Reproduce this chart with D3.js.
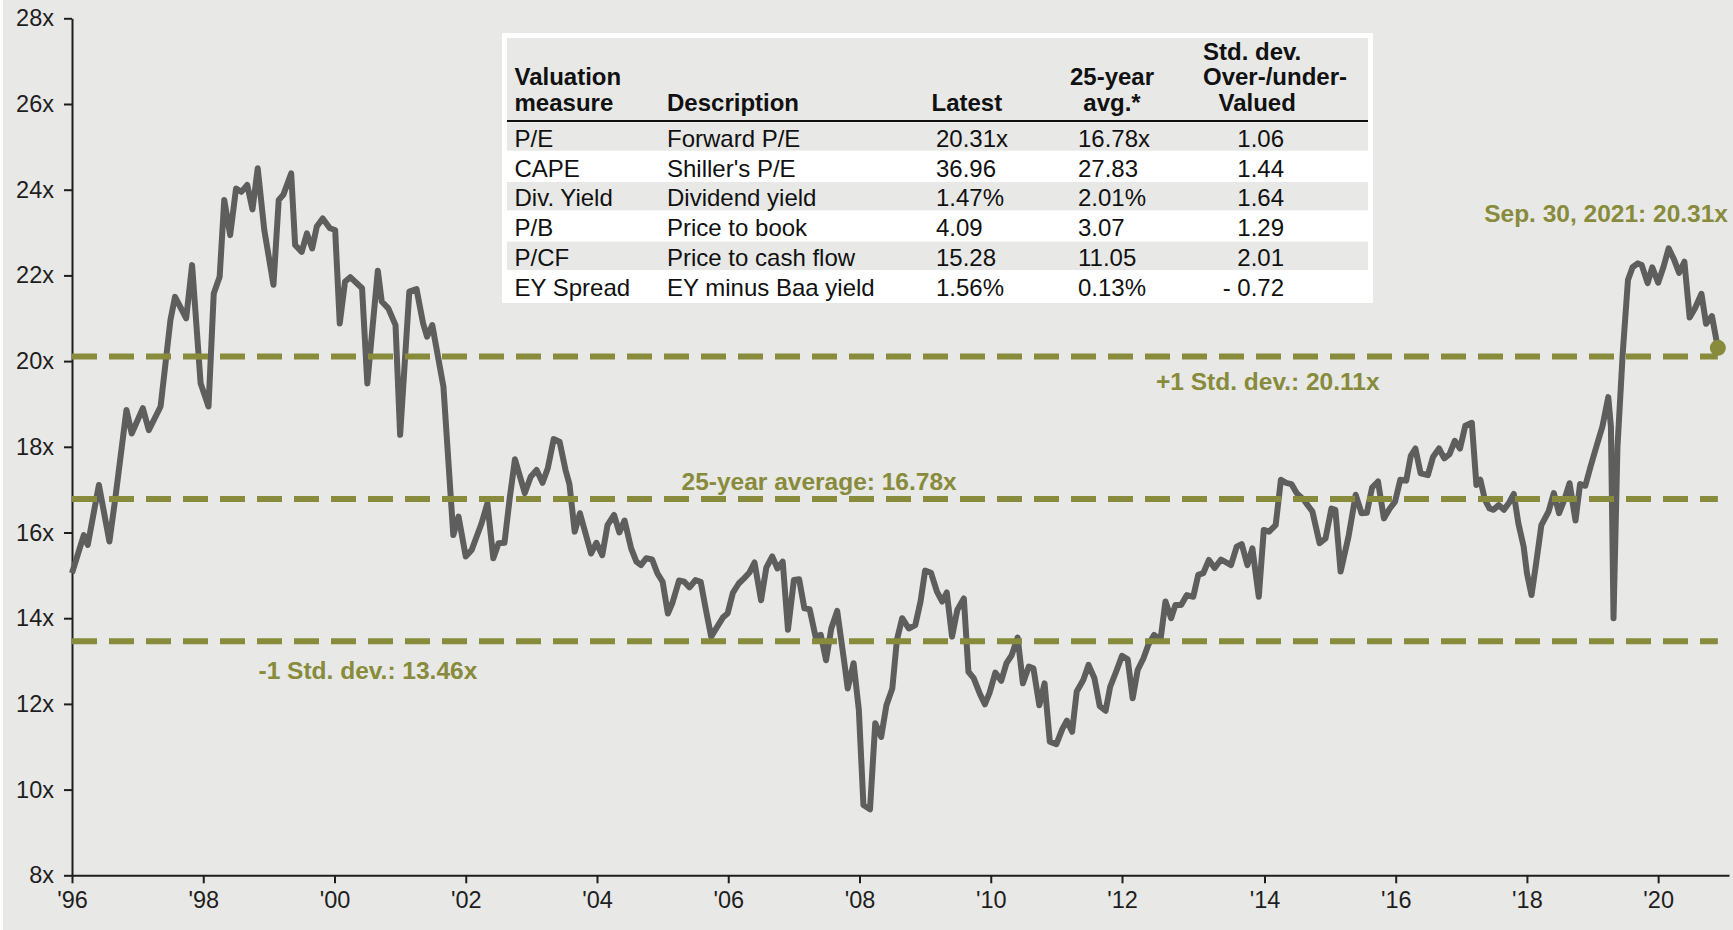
<!DOCTYPE html>
<html>
<head>
<meta charset="utf-8">
<script src="https://cdn.jsdelivr.net/npm/d3@7"></script>
<style>
  html, body { margin: 0; padding: 0; background: #fff; }
  svg { display: block; font-family: Arial, "Liberation Sans", sans-serif; }
</style>
</head>
<body>
<svg id="chart"></svg>
<script>
// forward P/E, [year on the axis, multiple]
const pePoints = [
  [1996.00,15.05],[1996.18,15.94],[1996.24,15.71],[1996.41,17.11],[1996.57,15.79],[1996.66,16.80],
  [1996.83,18.86],[1996.91,18.31],[1997.08,18.90],[1997.17,18.39],[1997.35,18.94],[1997.50,20.96],
  [1997.57,21.50],[1997.74,21.00],[1997.83,22.24],[1997.96,19.48],[1998.08,18.94],[1998.16,21.58],
  [1998.25,21.97],[1998.32,23.76],[1998.41,22.94],[1998.50,24.03],[1998.58,23.95],[1998.67,24.11],
  [1998.75,23.54],[1998.83,24.50],[1998.93,23.06],[1999.07,21.78],[1999.15,23.76],[1999.22,23.88],
  [1999.34,24.38],[1999.40,22.71],[1999.50,22.55],[1999.58,22.98],[1999.66,22.63],[1999.73,23.14],
  [1999.82,23.33],[1999.93,23.10],[2000.01,23.06],[2000.08,20.88],[2000.16,21.85],[2000.24,21.96],
  [2000.42,21.70],[2000.50,19.48],[2000.66,22.11],[2000.72,21.39],[2000.82,21.23],[2000.93,20.84],
  [2001.00,18.28],[2001.14,21.62],[2001.25,21.68],[2001.35,20.88],[2001.41,20.57],[2001.49,20.84],
  [2001.66,19.40],[2001.81,15.94],[2001.89,16.37],[2002.00,15.44],[2002.09,15.59],[2002.24,16.21],
  [2002.33,16.68],[2002.42,15.40],[2002.50,15.75],[2002.59,15.76],[2002.67,16.80],[2002.75,17.71],
  [2002.90,16.92],[2002.99,17.30],[2003.08,17.46],[2003.17,17.16],[2003.25,17.50],[2003.34,18.18],
  [2003.43,18.12],[2003.52,17.46],[2003.58,17.13],[2003.66,16.02],[2003.74,16.45],[2003.91,15.51],
  [2003.99,15.76],[2004.08,15.47],[2004.16,16.17],[2004.26,16.41],[2004.34,16.00],[2004.42,16.28],
  [2004.52,15.63],[2004.60,15.32],[2004.67,15.24],[2004.75,15.40],[2004.84,15.37],[2004.92,15.05],
  [2005.00,14.85],[2005.08,14.11],[2005.15,14.36],[2005.25,14.88],[2005.33,14.85],[2005.41,14.72],
  [2005.50,14.89],[2005.58,14.85],[2005.66,14.19],[2005.74,13.57],[2005.84,13.82],[2005.92,14.02],
  [2005.99,14.11],[2006.07,14.59],[2006.16,14.81],[2006.24,14.93],[2006.32,15.06],[2006.40,15.30],
  [2006.50,14.42],[2006.58,15.18],[2006.67,15.44],[2006.75,15.16],[2006.83,15.32],[2006.91,13.73],
  [2007.00,14.89],[2007.08,14.91],[2007.16,14.23],[2007.24,14.21],[2007.33,13.57],[2007.41,13.61],
  [2007.49,13.02],[2007.57,13.76],[2007.66,14.17],[2007.77,12.95],[2007.82,12.36],[2007.91,12.95],
  [2007.99,11.86],[2008.06,9.64],[2008.16,9.54],[2008.24,11.55],[2008.33,11.23],[2008.41,11.97],
  [2008.50,12.36],[2008.57,13.49],[2008.65,14.00],[2008.75,13.76],[2008.85,13.84],[2008.93,14.39],
  [2009.00,15.11],[2009.09,15.06],[2009.18,14.62],[2009.26,14.39],[2009.33,14.60],[2009.41,13.57],
  [2009.49,14.19],[2009.59,14.46],[2009.66,12.75],[2009.74,12.60],[2009.83,12.25],[2009.91,11.99],
  [2009.98,12.25],[2010.07,12.73],[2010.16,12.54],[2010.24,12.95],[2010.32,13.14],[2010.41,13.55],
  [2010.49,12.48],[2010.58,12.87],[2010.65,12.83],[2010.74,11.97],[2010.82,12.48],[2010.90,11.12],
  [2011.00,11.06],[2011.09,11.41],[2011.16,11.61],[2011.24,11.35],[2011.31,12.29],[2011.41,12.56],
  [2011.49,12.91],[2011.58,12.60],[2011.66,11.95],[2011.75,11.84],[2011.82,12.40],[2011.91,12.75],
  [2012.00,13.12],[2012.08,13.04],[2012.15,12.13],[2012.22,12.79],[2012.30,13.06],[2012.37,13.38],
  [2012.45,13.61],[2012.54,13.49],[2012.61,14.39],[2012.69,14.00],[2012.75,14.31],[2012.83,14.31],
  [2012.91,14.54],[2013.00,14.50],[2013.07,15.01],[2013.14,15.05],[2013.22,15.36],[2013.30,15.17],
  [2013.39,15.37],[2013.53,15.24],[2013.61,15.67],[2013.68,15.73],[2013.76,15.24],[2013.83,15.63],
  [2013.92,14.50],[2013.99,16.06],[2014.07,16.02],[2014.17,16.17],[2014.25,17.23],[2014.33,17.16],
  [2014.41,17.13],[2014.49,16.92],[2014.60,16.76],[2014.73,16.49],[2014.84,15.75],[2014.93,15.86],
  [2015.02,16.56],[2015.08,16.53],[2015.16,15.09],[2015.28,15.90],[2015.39,16.88],[2015.48,16.45],
  [2015.56,16.46],[2015.64,17.05],[2015.73,17.19],[2015.82,16.33],[2015.91,16.56],[2015.99,16.72],
  [2016.07,17.23],[2016.16,17.21],[2016.23,17.79],[2016.30,17.96],[2016.38,17.38],[2016.49,17.34],
  [2016.57,17.77],[2016.66,17.96],[2016.74,17.73],[2016.82,17.83],[2016.90,18.14],[2016.98,17.96],
  [2017.06,18.49],[2017.16,18.56],[2017.23,17.11],[2017.29,17.23],[2017.36,16.76],[2017.43,16.56],
  [2017.49,16.53],[2017.57,16.64],[2017.65,16.53],[2017.73,16.70],[2017.80,16.90],[2017.87,16.21],
  [2017.95,15.67],[2018.00,15.05],[2018.07,14.54],[2018.14,15.28],[2018.22,16.17],[2018.33,16.49],
  [2018.41,16.92],[2018.49,16.45],[2018.57,16.76],[2018.65,17.15],[2018.74,16.28],[2018.81,17.13],
  [2018.89,17.09],[2018.97,17.54],[2019.05,17.96],[2019.15,18.47],[2019.24,19.16],[2019.28,18.47],
  [2019.32,14.00],[2019.38,18.00],[2019.46,20.18],[2019.54,21.89],[2019.61,22.19],[2019.69,22.28],
  [2019.75,22.24],[2019.84,21.82],[2019.91,22.19],[2020.00,21.83],[2020.08,22.19],[2020.16,22.63],
  [2020.24,22.38],[2020.32,22.06],[2020.40,22.32],[2020.48,21.02],[2020.56,21.23],[2020.66,21.57],
  [2020.73,20.87],[2020.82,21.05],[2020.91,20.31]
]

const refValues = [20.11, 16.78, 13.46]
const refLabels = ['+1 Std. dev.: 20.11x', '25-year average: 16.78x', '-1 Std. dev.: 13.46x']
const latestLabel = 'Sep. 30, 2021: 20.31x'

const yTicks = [8, 10, 12, 14, 16, 18, 20, 22, 24, 26, 28]
const xTicks = [1996, 1998, 2000, 2002, 2004, 2006, 2008, 2010, 2012, 2014, 2016, 2018, 2020]

const tableHeaders = [['Valuation', 'measure'], ['Description'], ['Latest'], ['25-year', 'avg.*'], ['Std. dev.', 'Over-/under-', 'Valued']]
const tableMeasures = ['P/E', 'CAPE', 'Div. Yield', 'P/B', 'P/CF', 'EY Spread']
const tableDescriptions = ['Forward P/E', "Shiller's P/E", 'Dividend yield', 'Price to book', 'Price to cash flow', 'EY minus Baa yield']
const tableLatest = ['20.31x', '36.96', '1.47%', '4.09', '15.28', '1.56%']
const tableAvg = ['16.78x', '27.83', '2.01%', '3.07', '11.05', '0.13%']
const tableStdDev = ['1.06', '1.44', '1.64', '1.29', '2.01', '- 0.72']

const W = 1733, H = 930
const BG = '#e8e8e6'
const OLIVE = '#878b3b'
const INK = '#1e1e1e'

const svg = d3.select('#chart').attr('width', W).attr('height', H)

svg.append('rect').attr('x', 3).attr('y', 0).attr('width', W - 3).attr('height', H).attr('fill', BG)

// axis is not evenly spaced in the original, '12-'14 is wider
const x = d3.scaleLinear()
  .domain([1996, 2012, 2014, 2021.08])
  .range([72, 1122, 1264.5, 1729])
const y = d3.scaleLinear().domain([8, 28]).range([875.3, 18.3])

const last = pePoints[pePoints.length - 1]

// axes
const yAxis = svg.append('g')
  .attr('transform', `translate(${x(1996)},0)`)
  .call(d3.axisLeft(y).tickValues(yTicks).tickFormat(d => d + 'x').tickSize(8).tickPadding(10).tickSizeOuter(0))
const xAxis = svg.append('g')
  .attr('transform', `translate(0,${y(8)})`)
  .call(d3.axisBottom(x).tickValues(xTicks).tickFormat(d => "'" + String(d).slice(2)).tickSize(8).tickPadding(8).tickSizeOuter(0))

;[yAxis, xAxis].forEach(g => {
  g.attr('font-size', 23.5).attr('font-family', null)
  g.selectAll('.domain, .tick line').attr('stroke', INK).attr('stroke-width', 2)
  g.selectAll('text').attr('fill', INK)
})

// P/E line
svg.append('path')
  .datum(pePoints)
  .attr('fill', 'none')
  .attr('stroke', '#5e5e5e')
  .attr('stroke-width', 6)
  .attr('stroke-linejoin', 'round')
  .attr('d', d3.line().x(d => x(d[0])).y(d => y(d[1])))

// std dev / average lines
svg.append('g')
  .selectAll('line')
  .data(refValues)
  .join('line')
    .attr('x1', x(1996))
    .attr('x2', x(last[0]))
    .attr('y1', d => y(d))
    .attr('y2', d => y(d))
    .attr('stroke', OLIVE)
    .attr('stroke-width', 6)
    .attr('stroke-dasharray', '25 12')

const labelPos = [
  { x: 1156, dy: 34 },
  { x: 681.5, dy: -9 },
  { x: 258.5, dy: 37.5 }
]
svg.append('g')
  .attr('font-size', 24.5)
  .attr('font-weight', 'bold')
  .attr('fill', OLIVE)
  .selectAll('text')
  .data(refLabels)
  .join('text')
    .attr('x', (d, i) => labelPos[i].x)
    .attr('y', (d, i) => y(refValues[i]) + labelPos[i].dy)
    .text(d => d)

svg.append('circle')
  .attr('cx', x(last[0]))
  .attr('cy', y(last[1]))
  .attr('r', 8)
  .attr('fill', OLIVE)

svg.append('text')
  .attr('x', 1728)
  .attr('y', 222)
  .attr('text-anchor', 'end')
  .attr('font-size', 24.5)
  .attr('font-weight', 'bold')
  .attr('fill', OLIVE)
  .text(latestLabel)

// valuation table
const table = svg.append('g').attr('font-size', 24).attr('fill', '#111')
const tb = { x: 502, y: 33, w: 871, h: 270, inset: 5, headBottom: 121, rowH: 29.85 }

table.append('rect')
  .attr('x', tb.x).attr('y', tb.y).attr('width', tb.w).attr('height', tb.h)
  .attr('fill', '#fff')
table.append('rect')
  .attr('x', tb.x + tb.inset).attr('y', tb.y + tb.inset)
  .attr('width', tb.w - 2 * tb.inset).attr('height', tb.headBottom - 1 - tb.y - tb.inset)
  .attr('fill', BG)

const rows = tableMeasures.map((m, i) => [m, tableDescriptions[i], tableLatest[i], tableAvg[i], tableStdDev[i]])

table.selectAll('rect.row')
  .data(rows)
  .join('rect')
    .attr('class', 'row')
    .attr('x', tb.x + tb.inset)
    .attr('y', (d, i) => tb.headBottom + 1.3 + i * tb.rowH)
    .attr('width', tb.w - 2 * tb.inset)
    .attr('height', tb.rowH - 1.5)
    .attr('fill', (d, i) => i % 2 === 0 ? BG : '#fff')

table.append('line')
  .attr('x1', tb.x + tb.inset).attr('x2', tb.x + tb.w - tb.inset)
  .attr('y1', tb.headBottom).attr('y2', tb.headBottom)
  .attr('stroke', '#111').attr('stroke-width', 2)

const headCols = [
  { x: 514.5, anchor: 'start' },
  { x: 667, anchor: 'start' },
  { x: 931.5, anchor: 'start' },
  { x: 1112, anchor: 'middle' },
  { x: 1203, anchor: 'start' }
]
const cellCols = [
  { x: 514.5, anchor: 'start' },
  { x: 667, anchor: 'start' },
  { x: 936, anchor: 'start' },
  { x: 1078, anchor: 'start' },
  { x: 1284, anchor: 'end' }
]

tableHeaders.forEach((lines, c) => {
  table.append('g')
    .attr('font-weight', 'bold')
    .selectAll('text')
    .data(lines)
    .join('text')
      .attr('x', (d, i) => headCols[c].x + (d === 'Valued' ? 15.5 : 0))
      .attr('y', (d, i) => 110.5 - (lines.length - 1 - i) * 25.5)
      .attr('text-anchor', headCols[c].anchor)
      .text(d => d)
})

rows.forEach((row, r) => {
  table.append('g')
    .selectAll('text')
    .data(row)
    .join('text')
      .attr('x', (d, c) => cellCols[c].x)
      .attr('y', tb.headBottom + 25.7 + r * tb.rowH)
      .attr('text-anchor', (d, c) => cellCols[c].anchor)
      .text(d => d)
})
</script>
</body>
</html>
